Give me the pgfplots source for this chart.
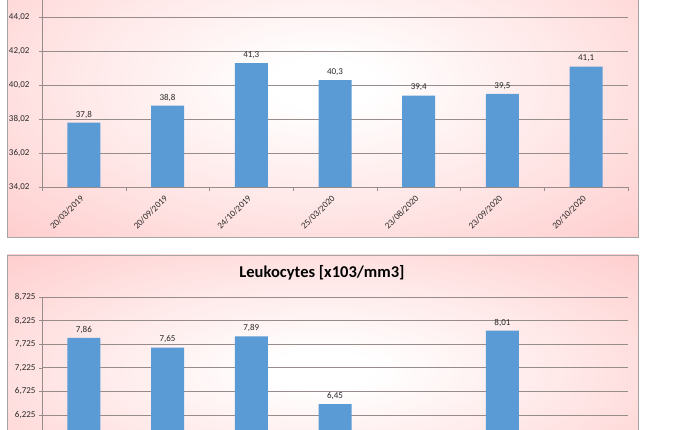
\documentclass[border=0pt]{standalone}
\usepackage{fontspec}
\setmainfont{Carlito}
\usepackage{pgfplots}
\pgfplotsset{compat=1.18}
\definecolor{pinkc}{RGB}{255,202,202}
\definecolor{barblue}{RGB}{91,155,213}
\definecolor{gridc}{RGB}{150,140,140}
\definecolor{framec}{RGB}{165,165,165}
\definecolor{txt}{RGB}{40,40,40}
\pgfdeclareradialshading{glow}{\pgfpoint{0bp}{0bp}}{color(0bp)=(white); color(4bp)=(white); color(20bp)=(white!55!pinkc); color(38bp)=(pinkc); color(100bp)=(pinkc)}

\pgfplotsset{myax/.style={
  scale only axis, width=586pt,
  xmin=-0.5, xmax=6.5,
  axis x line*=bottom, axis y line*=left,
  axis line style={gridc},
  ymajorgrids, grid style={gridc, line width=0.6pt},
  tick align=outside,
  xtick={0,...,6},
  major x tick style={draw=none},
  minor xtick={-0.5,0.5,...,6.5},
  minor x tick style={gridc},
  minor tick length=4pt,
  major tick length=3pt,
  ytick style={gridc},
  xticklabel style={xshift=-4pt, yshift=-3pt, rotate=45, anchor=north east, inner sep=1pt, font=\fontsize{9}{10}\selectfont, text=txt},
  yticklabel style={font=\fontsize{9}{10}\selectfont, text=txt},
  /pgf/number format/assume math mode=true,
  ybar, bar width=33pt,
  nodes near coords={\pgfmathprintnumber[use comma,fixed,precision=2]{\pgfplotspointmeta}},
  every node near coord/.append style={font=\fontsize{9}{10}\selectfont, text=txt, yshift=1pt},
}}

\begin{document}
\begin{tikzpicture}
\path[use as bounding box] (0pt,0pt) rectangle (690pt,430pt);
\clip (0pt,0pt) rectangle (690pt,430pt);
\shade[shading=glow] (7pt,193pt) rectangle (638pt,500pt);
\draw[framec, line width=0.8pt] (7pt,193pt) rectangle (638pt,500pt);
\shade[shading=glow] (7pt,-55pt) rectangle (638pt,175pt);
\draw[framec, line width=0.8pt] (7pt,-55pt) rectangle (638pt,175pt);

\begin{axis}[myax, at={(42pt,243pt)}, anchor=south west, height=204pt,
  ymin=34.02, ymax=46.02,
  ytick={34.02,36.02,38.02,40.02,42.02,44.02},
  xticklabels={20/03/2019,20/09/2019,24/10/2019,25/03/2020,23/08/2020,23/09/2020,20/10/2020},
  yticklabel style={xshift=-6pt, /pgf/number format/.cd, fixed, fixed zerofill, precision=2, use comma},
]
\addplot[fill=barblue, draw=none] coordinates {(0,37.8) (1,38.8) (2,41.3) (3,40.3) (4,39.4) (5,39.5) (6,41.1)};
\end{axis}

\begin{axis}[myax, at={(42pt,-32pt)}, anchor=south west, height=165pt,
  ymin=5.225, ymax=8.725,
  ytick={6.225,6.725,7.225,7.725,8.225,8.725},
  xticklabels={},
  yticklabel style={/pgf/number format/.cd, fixed, fixed zerofill, precision=3, use comma},
]
\addplot[fill=barblue, draw=none] coordinates {(0,7.86) (1,7.65) (2,7.89) (3,6.45) (5,8.01)};
\end{axis}
\node[font=\bfseries\fontsize{16.5}{18}\selectfont, text=black] at (322pt,157pt) {Leukocytes [x103/mm3]};
\end{tikzpicture}
\end{document}
